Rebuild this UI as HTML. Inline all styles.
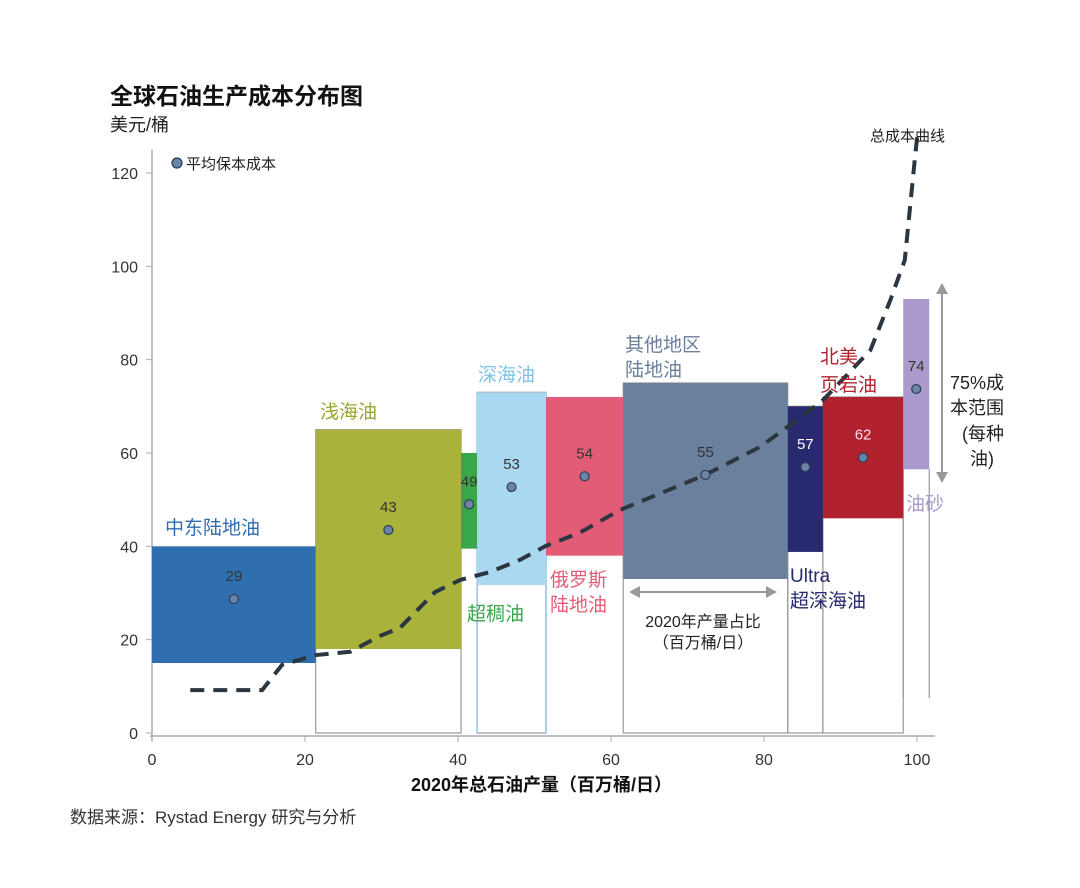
<!DOCTYPE html>
<html><head><meta charset="utf-8"><style>
body{margin:0;background:#fff;}
svg text{font-family:"Liberation Sans","Noto Sans CJK SC",sans-serif;}
</style></head><body>
<svg id="c" width="1080" height="883" viewBox="0 0 1080 883" xmlns="http://www.w3.org/2000/svg">
<text x="110" y="104" font-size="23" font-weight="bold" fill="#111">全球石油生产成本分布图</text>
<text x="110" y="131" font-size="18" fill="#222">美元/桶</text>
<circle cx="177" cy="163" r="5" fill="#6a85a8" stroke="#2b3b55" stroke-width="1.2"/>
<text x="186" y="169" font-size="15" fill="#222">平均保本成本</text>
<g id="plot"></g>
<text x="411" y="791" font-size="18" font-weight="bold" fill="#111">2020年总石油产量（百万桶/日）</text>
<text x="70" y="823" font-size="17" fill="#333">数据来源：Rystad Energy 研究与分析</text>
</svg>
<script>
const categories=["中东陆地油","浅海油","超稠油","深海油","俄罗斯陆地油","其他地区陆地油","Ultra超深海油","北美页岩油","油砂"];
const xStart=[0,21.4,40.4,42.5,51.5,61.6,83.1,87.7,98.2];
const xEnd=[21.4,40.4,42.5,51.5,61.6,83.1,87.7,98.2,101.6];
const lowCost=[15,18,39.5,31.7,38,33,38.8,46,56.5];
const highCost=[40,65,60,73,72,75,70,72,93];
const meanCost=[29,43,49,53,54,55,57,62,74];
const meanPlotY=[28.7,43.5,49,52.7,55,55.3,57,59,73.7];
const curveX=[5,14.4,17,21.4,25.9,29.8,32.4,37,40.3,44.2,48.1,51.5,55.9,61.2,72.3,79.5,83.4,87.7,93.9,96.5,98.4,99.7,100.1];
const curveY=[9.2,9.2,14.6,16.7,17.4,20.8,22.5,30.2,32.8,34.5,37.1,40.1,42.9,47.8,55.3,61.3,66,71.3,82,92.7,101.3,122.7,129];
const xTicks=[0,20,40,60,80,100];
const yTicks=[0,20,40,60,80,100,120];
const colors=["#2f6eaf","#a9b23b","#3aa64c","#a9d8f0","#e35c77","#6b809c","#28296f","#b1222e","#aa9bcc"];
const X=v=>152+v*7.65, Y=v=>733-v*4.667;
const NS="http://www.w3.org/2000/svg", p=document.getElementById('plot');
function mk(t,a,par){const e=document.createElementNS(NS,t);for(const k in a)e.setAttribute(k,a[k]);(par||p).appendChild(e);return e;}
// axes
let ya=mk('line',{x1:152,y1:150,x2:152,y2:740,stroke:'#aaa','stroke-width':1.5});

let xa=mk('line',{x1:150,y1:736,x2:935,y2:736,stroke:'#aaa','stroke-width':1.5});

yTicks.forEach(v=>{mk('line',{x1:146,x2:152,y1:Y(v),y2:Y(v),stroke:'#aaa'});
 const t=mk('text',{x:138,y:Y(v)+6,'text-anchor':'end','font-size':16,fill:'#333'});t.textContent=v;
 });
xTicks.forEach(v=>{mk('line',{x1:X(v),x2:X(v),y1:736,y2:742,stroke:'#aaa'});
 const t=mk('text',{x:X(v),y:765,'text-anchor':'middle','font-size':16,fill:'#333'});t.textContent=v;
 });
// outline boxes below
[1,3,5,6,7].forEach(i=>{const r=mk('rect',{x:X(xStart[i]),y:Y(highCost[i]),width:X(xEnd[i])-X(xStart[i]),height:Y(0)-Y(highCost[i]),fill:'none',stroke:'#999','stroke-width':1.2});
 });
[7,8].forEach(i=>{mk('line',{x1:X(xEnd[i]),x2:X(xEnd[i]),y1:Y(lowCost[i]),y2:698,stroke:'#999','stroke-width':1.2});});
mk('line',{x1:X(xStart[3]),x2:X(xStart[3]),y1:Y(highCost[3]),y2:Y(0),stroke:'#8ccbe8','stroke-width':1.5});
mk('line',{x1:X(xEnd[3]),x2:X(xEnd[3]),y1:Y(highCost[3]),y2:Y(0),stroke:'#8ccbe8','stroke-width':1.5});
// bars
categories.forEach((c,i)=>{const r=mk('rect',{x:X(xStart[i]),y:Y(highCost[i]),width:X(xEnd[i])-X(xStart[i]),height:Y(lowCost[i])-Y(highCost[i]),fill:colors[i]});
 });
// curve
let d=curveX.map((v,i)=>(i?'L':'M')+X(v)+','+Y(curveY[i])).join(' ');
let cv=mk('path',{d:d,fill:'none',stroke:'#2b3640','stroke-width':4,'stroke-dasharray':'14 9'});

// means
const valCol=["#333","#333","#333","#333","#333","#333","#fff","#fde","#333"];
categories.forEach((c,i)=>{const cx=X((xStart[i]+xEnd[i])/2);
 const dot=mk('circle',{cx:cx,cy:Y(meanPlotY[i]),r:4.5,fill:'#6a85a8',stroke:'#2b3b55','stroke-width':1.2});
 
 const t=mk('text',{x:cx,y:Y(meanPlotY[i])-18,'text-anchor':'middle','font-size':15,fill:valCol[i]});t.textContent=meanCost[i];
 });
// category labels
const labs=[["中东陆地油",165,534,"#2f6eaf"],["浅海油",320,418,"#9aa530"],["超稠油",467,620,"#3aa64c"],["深海油",478,381,"#7cc4e6"],["俄罗斯",550,586,"#e35c77"],["陆地油",550,611,"#e35c77"],["其他地区",625,351,"#6b809c"],["陆地油",625,376,"#6b809c"],["Ultra",790,582,"#28296f"],["超深海油",790,607,"#28296f"],["北美",820,363,"#b1222e"],["页岩油",820,391,"#b1222e"],["油砂",906,510,"#aa9bcc"],["总成本曲线",870,141,"#222"]];
labs.forEach(l=>{const t=mk('text',{x:l[1],y:l[2],'font-size':l[0]=="总成本曲线"?15:19,fill:l[3]});t.textContent=l[0];
 });
// range arrow
mk('line',{x1:942,x2:942,y1:290,y2:476,stroke:'#999','stroke-width':2});
mk('path',{d:'M936,294 L942,283 L948,294 Z',fill:'#999'});mk('path',{d:'M936,472 L942,483 L948,472 Z',fill:'#999'});
[["75%成",950,389],["本范围",950,414],["(每种",962,440],["油)",970,465]].forEach(l=>{const t=mk('text',{x:l[1],y:l[2],'font-size':18,fill:'#222'});t.textContent=l[0];
 });
// width arrow
mk('line',{x1:636,x2:770,y1:592,y2:592,stroke:'#999','stroke-width':2});
mk('path',{d:'M640,586 L629,592 L640,598 Z',fill:'#999'});mk('path',{d:'M766,586 L777,592 L766,598 Z',fill:'#999'});
[["2020年产量占比",703,627],["（百万桶/日）",703,648]].forEach(l=>{const t=mk('text',{x:l[1],y:l[2],'font-size':16,fill:'#222','text-anchor':'middle'});t.textContent=l[0];
 });
</script>
</body></html>
